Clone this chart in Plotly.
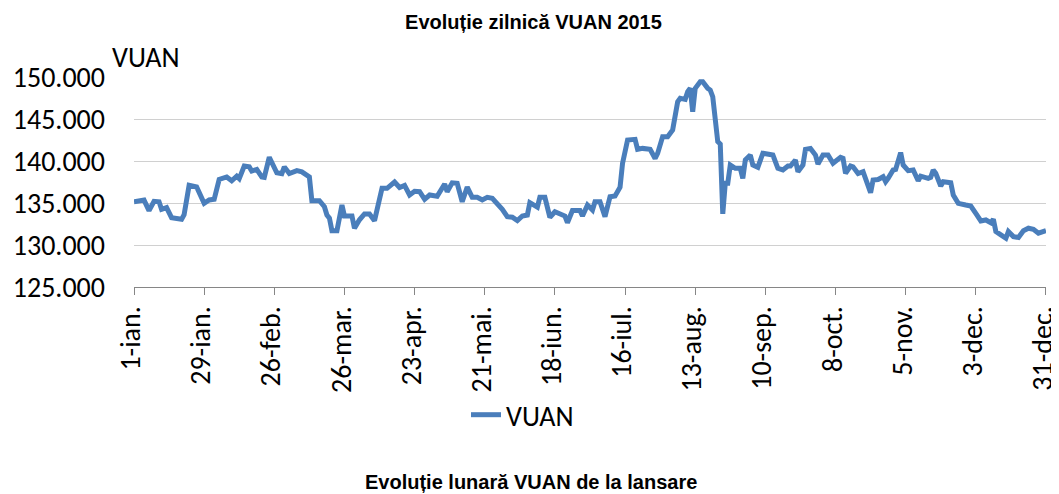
import plotly.graph_objects as go

dates = [
    "2015-01-01", "2015-01-05", "2015-01-07", "2015-01-09", "2015-01-11", "2015-01-12", "2015-01-14",
    "2015-01-16", "2015-01-20", "2015-01-21", "2015-01-23", "2015-01-26", "2015-01-29", "2015-01-31",
    "2015-02-02", "2015-02-04", "2015-02-07", "2015-02-09", "2015-02-11", "2015-02-12", "2015-02-14",
    "2015-02-16", "2015-02-17", "2015-02-19", "2015-02-21", "2015-02-22", "2015-02-24", "2015-02-27",
    "2015-03-01", "2015-03-02", "2015-03-04", "2015-03-07", "2015-03-09", "2015-03-11", "2015-03-12",
    "2015-03-13", "2015-03-16", "2015-03-18", "2015-03-19", "2015-03-20", "2015-03-21", "2015-03-23",
    "2015-03-25", "2015-03-26", "2015-03-29", "2015-03-30", "2015-04-01", "2015-04-03", "2015-04-05",
    "2015-04-07", "2015-04-09", "2015-04-10", "2015-04-12", "2015-04-15", "2015-04-17", "2015-04-19",
    "2015-04-21", "2015-04-23", "2015-04-25", "2015-04-27", "2015-04-29", "2015-05-02", "2015-05-05",
    "2015-05-06", "2015-05-08", "2015-05-10", "2015-05-12", "2015-05-14", "2015-05-16", "2015-05-18",
    "2015-05-20", "2015-05-22", "2015-05-24", "2015-05-26", "2015-05-28", "2015-05-30", "2015-06-01",
    "2015-06-03", "2015-06-05", "2015-06-07", "2015-06-08", "2015-06-11", "2015-06-12", "2015-06-14",
    "2015-06-16", "2015-06-18", "2015-06-20", "2015-06-22", "2015-06-23", "2015-06-25", "2015-06-28",
    "2015-06-29", "2015-07-01", "2015-07-03", "2015-07-04", "2015-07-06", "2015-07-08", "2015-07-10",
    "2015-07-12", "2015-07-14", "2015-07-15", "2015-07-17", "2015-07-20", "2015-07-21", "2015-07-23",
    "2015-07-26", "2015-07-28", "2015-07-29", "2015-07-31", "2015-08-02", "2015-08-04", "2015-08-06",
    "2015-08-07", "2015-08-09", "2015-08-10", "2015-08-11", "2015-08-12", "2015-08-13", "2015-08-15",
    "2015-08-16", "2015-08-18", "2015-08-19", "2015-08-20", "2015-08-22", "2015-08-23", "2015-08-24",
    "2015-08-25", "2015-08-26", "2015-08-27", "2015-08-29", "2015-08-31", "2015-09-01", "2015-09-02",
    "2015-09-04", "2015-09-05", "2015-09-07", "2015-09-09", "2015-09-12", "2015-09-13", "2015-09-15",
    "2015-09-17", "2015-09-19", "2015-09-20", "2015-09-22", "2015-09-23", "2015-09-25", "2015-09-26",
    "2015-09-28", "2015-09-30", "2015-10-01", "2015-10-03", "2015-10-05", "2015-10-06", "2015-10-07",
    "2015-10-10", "2015-10-11", "2015-10-12", "2015-10-14", "2015-10-15", "2015-10-17", "2015-10-19",
    "2015-10-21", "2015-10-22", "2015-10-23", "2015-10-25", "2015-10-27", "2015-10-28", "2015-10-29",
    "2015-10-31", "2015-11-01", "2015-11-02", "2015-11-03", "2015-11-04", "2015-11-06", "2015-11-08",
    "2015-11-10", "2015-11-11", "2015-11-14", "2015-11-15", "2015-11-16", "2015-11-17", "2015-11-19",
    "2015-11-20", "2015-11-23", "2015-11-24", "2015-11-26", "2015-11-29", "2015-12-01", "2015-12-03",
    "2015-12-05", "2015-12-07", "2015-12-09", "2015-12-10", "2015-12-11", "2015-12-13", "2015-12-15",
    "2015-12-16", "2015-12-18", "2015-12-20", "2015-12-22", "2015-12-24", "2015-12-26", "2015-12-28",
    "2015-12-30", "2015-12-31",
]

vuan = [
    135.15, 135.35, 134.10, 135.20, 135.15, 134.25, 134.45,
    133.25, 133.06, 133.60, 137.10, 136.90, 134.96, 135.36,
    135.44, 137.80, 138.10, 137.65, 138.20, 137.90, 139.40,
    139.30, 138.80, 139.00, 138.10, 138.05, 140.45, 138.60,
    138.50, 139.30, 138.50, 138.85, 138.70, 138.20, 138.10,
    135.27, 135.27, 134.56, 133.57, 133.20, 131.70, 131.70,
    134.76, 133.45, 133.45, 132.00, 133.00, 133.70, 133.70,
    132.90, 135.75, 136.75, 136.75, 137.50, 136.85, 137.10,
    135.95, 136.40, 136.35, 135.44, 135.95, 135.80, 137.26,
    136.35, 137.40, 137.35, 135.15, 136.90, 135.67, 135.67,
    135.36, 135.67, 135.55, 134.96, 134.25, 133.37, 133.30,
    132.90, 133.45, 133.57, 135.04, 134.50, 135.67, 135.67,
    133.30, 133.96, 133.70, 133.45, 132.65, 134.10, 134.10,
    133.45, 134.76, 134.17, 135.15, 135.15, 133.37, 135.75,
    135.83, 136.87, 139.73, 142.50, 142.58, 141.39, 141.50,
    141.39, 140.30, 140.90, 142.90, 142.90, 143.70, 147.06,
    147.46, 147.34, 148.25, 148.65, 145.87, 148.65, 149.44,
    149.44, 148.65, 148.45, 147.65, 142.30, 142.02, 133.70,
    137.35, 137.35, 139.52, 139.13, 139.13, 137.94, 140.12,
    140.71, 139.52, 139.25, 140.92, 140.71, 140.71, 139.13,
    138.93, 139.40, 139.40, 140.12, 138.73, 139.52, 141.39,
    141.50, 140.71, 139.64, 140.71, 140.71, 140.20, 139.73,
    140.44, 140.32, 138.54, 139.40, 139.30, 138.50, 138.73,
    136.94, 136.23, 137.74, 137.80, 138.13, 137.54, 137.94,
    138.93, 139.00, 139.90, 141.00, 139.52, 138.85, 138.93,
    137.65, 138.20, 137.94, 138.06, 138.93, 138.54, 137.02,
    137.54, 137.42, 135.95, 134.96, 134.76, 134.64, 133.77,
    132.86, 132.98, 132.65, 133.06, 131.60, 131.20, 130.80,
    131.60, 131.00, 130.90, 131.70, 132.00, 131.87, 131.40,
    131.70, 131.70,
]

tick_dates = ["2015-01-01", "2015-01-29", "2015-02-26", "2015-03-26", "2015-04-23",
              "2015-05-21", "2015-06-18", "2015-07-16", "2015-08-13", "2015-09-10",
              "2015-10-08", "2015-11-05", "2015-12-03", "2015-12-31"]
tick_labels = ["1-ian.", "29-ian.", "26-feb.", "26-mar.", "23-apr.", "21-mai.", "18-iun.",
               "16-iul.", "13-aug.", "10-sep.", "8-oct.", "5-nov.", "3-dec.", "31-dec."]
y_ticks = [125, 130, 135, 140, 145, 150]
y_labels = ["125.000", "130.000", "135.000", "140.000", "145.000", "150.000"]

tick_font = dict(family="Carlito, Calibri, Lato, sans-serif", size=28, color="#000000")
bold_font = dict(family="'Liberation Sans', Arial, sans-serif", size=20, color="#000000")

# the page body adds an 8px margin; the figure is sized to fill the rest of the window
W, H = 1051, 486

fig = go.Figure()
fig.add_trace(go.Scatter(
    x=dates, y=vuan, mode="lines", name="VUAN",
    line=dict(color="#4A7EBB", width=5, shape="linear"),
))

fig.update_layout(
    width=W, height=H,
    margin=dict(l=126, r=13, t=69, b=207, autoexpand=False),
    paper_bgcolor="white", plot_bgcolor="white",
    showlegend=True,
    legend=dict(orientation="h", xref="container", yref="container",
                x=458 / W, xanchor="left", y=1 - 407 / H, yanchor="middle",
                font=tick_font, bgcolor="rgba(0,0,0,0)"),
    title=dict(text="<b>Evoluție zilnică VUAN 2015</b>", x=0.5, xanchor="center",
               xref="container", yref="container",
               y=1 - 14 / H, yanchor="middle", font=bold_font),
)

fig.update_xaxes(
    type="date", range=["2015-01-01", "2015-12-31 00:20"], automargin=False,
    tickmode="array", tickvals=tick_dates, ticktext=tick_labels,
    tickangle=-90, tickfont=tick_font, ticklabeloverflow="allow", ticklabelshift=-3,
    ticks="outside", ticklen=7, tickcolor="#868686", tickwidth=1,
    showline=True, linecolor="#868686", linewidth=1,
    showgrid=False, zeroline=False,
)
fig.update_yaxes(
    range=[125, 150], automargin=False, tickmode="array", tickvals=y_ticks, ticktext=y_labels,
    tickfont=tick_font, showgrid=True, gridcolor="#D0D0D0", gridwidth=1,
    showline=False, zeroline=False, ticks="", ticklabelstandoff=28,
)

fig.add_annotation(text="VUAN", xref="paper", yref="paper", x=-0.026, y=1.0,
                   xanchor="left", yanchor="bottom", showarrow=False, font=tick_font)
fig.add_annotation(text="<b>Evoluție lunară VUAN de la lansare</b>", xref="paper", yref="paper",
                   x=(523 - 126) / 912, y=0, yshift=-195, xanchor="center", yanchor="middle",
                   showarrow=False, font=bold_font)

fig.write_html("out.html")
